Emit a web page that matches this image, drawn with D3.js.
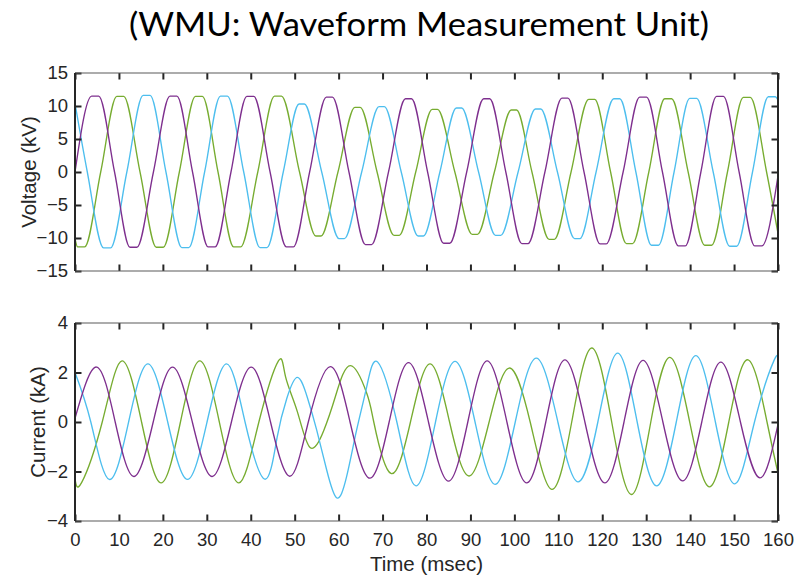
<!DOCTYPE html>
<html>
<head>
<meta charset="utf-8">
<script src="https://cdn.jsdelivr.net/npm/d3@7"></script>
<style>
  html, body { margin: 0; padding: 0; background: #ffffff; }
  svg { display: block; }
</style>
</head>
<body>
<svg id="chart" width="804" height="576"></svg>
<script>
// ---- Waveform samples: [time (ms), value] knots for each phase ----

// Phase voltages (kV)
const voltA = [
  [0,0],[3.8,11.5],[5.4,11.5],[9.0,0],[12.5,-11.4],[14.1,-11.4],[17.85,0],
  [21.6,11.5],[23.2,11.5],[26.75,0],[30.3,-11.35],[31.9,-11.35],[35.5,0],
  [39.1,11.45],[40.7,11.45],[44.4,0],[48.1,-11.35],[49.7,-11.35],[53.4,0],
  [57.2,11.35],[58.6,11.35],[62.35,0],[66.1,-11.0],[67.5,-11.0],[71.35,0],
  [75.2,11.1],[76.6,11.1],[80.25,0],[83.9,-10.8],[85.3,-10.8],[89.15,0],
  [93.0,11.1],[94.4,11.1],[98.05,0],[101.7,-10.85],[103.1,-10.85],[106.95,0],
  [110.8,11.2],[112.2,11.2],[115.85,0],[119.5,-10.9],[120.9,-10.9],[124.75,0],
  [128.5,11.35],[130.1,11.35],[133.7,0],[137.3,-11.2],[138.9,-11.2],[142.45,0],
  [146.0,11.45],[147.6,11.45],[151.15,0],[154.7,-11.2],[156.3,-11.2],[160,-0.6]
];
const voltB = [
  [0,10.4],[2.8,0],[6.5,-11.5],[8.1,-11.5],[11.8,0],[15.5,11.6],[17.1,11.6],
  [20.7,0],[24.3,-11.45],[25.9,-11.45],[29.5,0],[33.1,11.5],[34.7,11.5],
  [38.4,0],[42.1,-11.45],[43.7,-11.45],[47.4,0],[51.0,10.3],[52.2,10.3],
  [56.15,0],[60.1,-10.1],[61.3,-10.1],[65.25,0],[69.2,9.9],[70.4,9.9],
  [74.25,0],[78.1,-9.7],[79.3,-9.7],[83.05,0],[86.8,9.7],[88.0,9.7],
  [91.85,0],[95.7,-9.6],[96.9,-9.6],[100.85,0],[104.8,9.55],[106.0,9.55],
  [109.8,0],[113.7,-10.1],[114.9,-10.1],[118.6,0],[122.6,11.1],[124.0,11.1],
  [127.65,0],[131.2,-11.1],[132.8,-11.1],[136.35,0],[139.9,11.15],[141.5,11.15],
  [145.25,0],[149.0,-11.25],[150.6,-11.25],[154.2,0],[157.8,11.4],[159.4,11.4],
  [160,10.9]
];
const voltC = [
  [0,-10.1],[0.6,-11.35],[2.2,-11.35],[5.85,0],[9.5,11.45],[11.1,11.45],
  [14.8,0],[18.5,-11.4],[20.1,-11.4],[23.75,0],[27.4,11.45],[29.0,11.45],
  [32.55,0],[36.1,-11.35],[37.7,-11.35],[41.6,0],[45.4,11.5],[47.0,11.5],
  [51.1,0],[54.8,-9.7],[56.0,-9.7],[59.85,0],[63.7,9.8],[64.9,9.8],
  [68.75,0],[72.6,-9.6],[73.8,-9.6],[77.55,0],[81.3,9.5],[82.5,9.5],
  [86.45,0],[90.4,-9.45],[91.6,-9.45],[95.45,0],[99.3,9.4],[100.5,9.4],
  [104.0,0],[107.9,-10.2],[109.1,-10.2],[112.9,0],[116.9,11.0],[118.3,11.0],
  [121.9,0],[125.5,-10.85],[126.9,-10.85],[130.6,0],[134.2,11.1],[135.8,11.1],
  [139.55,0],[143.3,-11.1],[144.9,-11.1],[148.5,0],[152.1,11.3],[153.7,11.3],
  [157.4,0],[160,-9.3]
];

// Phase currents (kA)
const currA = [
  [0,0.15],[4.9,2.22],[9.15,0],[13.4,-2.2],[17.8,0],[22.2,2.22],[26.7,0],
  [31.2,-2.2],[35.6,0],[40.1,2.22],[44.5,0],[48.9,-2.19],[53.1,0],[58.1,2.24],
  [62.6,0],[67.1,-2.27],[71.5,0],[75.9,2.4],[80.45,0],[85.0,-2.39],[89.4,0],
  [93.8,2.47],[98.3,0],[102.8,-2.46],[107.15,0],[111.5,2.51],[116.05,0],
  [120.6,-2.46],[124.95,0],[129.3,2.49],[133.8,0],[138.3,-2.38],[142.65,0],
  [147.0,2.42],[151.45,0],[155.9,-2.26],[160,-0.1]
];
const currB = [
  [0,2.0],[3.6,0],[7.8,-2.32],[12.2,0],[16.6,2.35],[21.1,0],[25.6,-2.32],
  [30.05,0],[34.5,2.35],[38.7,0],[43.2,-2.31],[46.0,-0.62],[48.2,0.95],
  [50.6,1.8],[52.9,0.98],[55.0,-0.32],[57.3,-1.95],[59.6,-3.07],
  [61.8,-2.22],[64.1,-0.32],[66.4,1.43],[68.9,2.42],[73.25,0],[77.6,-2.58],
  [82.05,0],[86.5,2.45],[91.05,0],[95.6,-2.52],[100.2,0],[105.0,2.58],
  [109.9,0],[114.5,-2.42],[119.0,0],[123.5,2.78],
  [127.95,0],[132.4,-2.58],[136.85,0],[141.3,2.68],[145.75,0],[150.2,-2.5],
  [154.65,0],[159.1,2.49],[160,2.42]
];
const currC = [
  [0,-2.3],[1.5,-2.45],[6.2,0],[10.7,2.47],[15.15,0],[19.6,-2.46],[24.0,0],
  [28.4,2.47],[32.85,0],[37.3,-2.46],[41.85,0],[46.3,2.47],
  [47.9,1.84],[50.6,0.42],[53.5,-1.03],
  [56.6,-0.35],[59.3,1.05],[62.7,2.28],[66.4,1.16],[68.0,0],[71.9,-2.08],
  [76.35,0],[80.8,2.35],[85.25,0],[89.7,-2.18],[94.25,0],[98.8,2.18],
  [103.6,0],[108.5,-2.72],[113.05,0],[117.6,2.99],[122.15,0],[126.7,-2.93],
  [131.05,0],[135.4,2.61],[139.9,0],[144.4,-2.62],[148.8,0],[153.2,2.51],
  [157.5,0],[160,-2.08]
];

// Axis tick values and labels
const timeTicks = [0,10,20,30,40,50,60,70,80,90,100,110,120,130,140,150,160];
const voltTicks = [-15,-10,-5,0,5,10,15];
const currTicks = [-4,-2,0,2,4];
const titleText = "(WMU: Waveform Measurement Unit)";
const voltLabel = "Voltage (kV)";
const currLabel = "Current (kA)";
const timeLabel = "Time (msec)";

// ---- Drawing ----
const phaseColors = ["#7E2F8E", "#77AC30", "#4DBEEE"];
const inkColor = "#262626";
const svg = d3.select("#chart");

const left = 75, right = 778;
const x = d3.scaleLinear().domain([0, 160]).range([left, right]);

const panels = [
  { id: "volt", top: 73, bottom: 271, domain: [-15, 15], ticks: voltTicks,
    label: voltLabel, labelX: 28, series: [voltC, voltB, voltA],
    curve: d3.curveMonotoneX, showTime: false },
  { id: "curr", top: 323, bottom: 521, domain: [-4, 4], ticks: currTicks,
    label: currLabel, labelX: 37, series: [currC, currB, currA],
    curve: d3.curveNatural, showTime: true }
];
// series colours in the order listed above (green, blue, purple on top)
const seriesColor = [phaseColors[1], phaseColors[2], phaseColors[0]];

const font = "'Liberation Sans', Arial, Helvetica, sans-serif";
const tickLen = 6.5;

panels.forEach(p => {
  const y = d3.scaleLinear().domain(p.domain).range([p.bottom, p.top]);
  const g = svg.append("g");

  g.append("clipPath").attr("id", "clip-" + p.id)
    .append("rect").attr("x", left).attr("y", p.top)
    .attr("width", right - left).attr("height", p.bottom - p.top);

  const line = d3.line().x(d => x(d[0])).y(d => y(d[1])).curve(p.curve);
  g.append("g").attr("clip-path", "url(#clip-" + p.id + ")")
    .selectAll("path").data(p.series).join("path")
    .attr("d", line)
    .attr("fill", "none")
    .attr("stroke", (d, i) => seriesColor[i])
    .attr("stroke-width", 1.35)
    .attr("stroke-linejoin", "round");

  // inward ticks on all four sides
  const bottomAxis = d3.axisBottom(x).tickValues(timeTicks).tickSizeInner(-tickLen).tickSizeOuter(0)
    .tickFormat(p.showTime ? d3.format("d") : () => "");
  const topAxis = d3.axisTop(x).tickValues(timeTicks).tickSizeInner(-tickLen).tickSizeOuter(0).tickFormat(() => "");
  const leftAxis = d3.axisLeft(y).tickValues(p.ticks).tickSizeInner(-tickLen).tickSizeOuter(0)
    .tickFormat(d3.format("d")).tickPadding(6);
  const rightAxis = d3.axisRight(y).tickValues(p.ticks).tickSizeInner(-tickLen).tickSizeOuter(0).tickFormat(() => "");

  const axes = [
    g.append("g").attr("transform", `translate(0,${p.bottom})`).call(bottomAxis),
    g.append("g").attr("transform", `translate(0,${p.top})`).call(topAxis),
    g.append("g").attr("transform", `translate(${left},0)`).call(leftAxis),
    g.append("g").attr("transform", `translate(${right},0)`).call(rightAxis)
  ];
  axes.forEach(a => {
    a.select(".domain").remove();
    a.selectAll(".tick line").attr("stroke", inkColor).attr("stroke-width", 2);
    a.selectAll(".tick text").attr("fill", inkColor)
      .style("font-family", font).style("font-size", "18.5px");
  });
  axes[0].selectAll(".tick text").attr("dy", null).attr("y", 0).attr("transform", "translate(0,25)");
  axes[2].selectAll(".tick text").attr("x", -7);

  // box frame
  g.append("line").attr("x1", left).attr("x2", right).attr("y1", p.top).attr("y2", p.top)
    .attr("stroke", "#5a5a5a").attr("stroke-width", 1.2);
  g.append("line").attr("x1", left).attr("x2", right).attr("y1", p.bottom).attr("y2", p.bottom)
    .attr("stroke", "#5a5a5a").attr("stroke-width", 1.2);
  g.append("line").attr("x1", left).attr("x2", left).attr("y1", p.top).attr("y2", p.bottom)
    .attr("stroke", inkColor).attr("stroke-width", 2);
  g.append("line").attr("x1", right).attr("x2", right).attr("y1", p.top).attr("y2", p.bottom)
    .attr("stroke", inkColor).attr("stroke-width", 2);

  // y-axis title
  g.append("text")
    .attr("transform", `translate(${p.labelX},${(p.top + p.bottom) / 2}) rotate(-90)`)
    .attr("text-anchor", "middle").attr("dominant-baseline", "central")
    .attr("fill", inkColor)
    .style("font-family", font).style("font-size", "20.5px")
    .text(p.label);

  if (p.showTime) {
    svg.append("text")
      .attr("x", (left + right) / 2).attr("y", 571)
      .attr("text-anchor", "middle").attr("fill", inkColor)
      .style("font-family", font).style("font-size", "20.5px")
      .text(timeLabel);
  }
});

// chart title
svg.append("text")
  .attr("x", 419).attr("y", 36)
  .attr("text-anchor", "middle")
  .attr("fill", "#000000")
  .attr("textLength", 580).attr("lengthAdjust", "spacingAndGlyphs")
  .style("font-family", "Lato, 'Open Sans', sans-serif")
  .style("font-size", "32px")
  .style("font-weight", "400")
  .text(titleText);
</script>
</body>
</html>
